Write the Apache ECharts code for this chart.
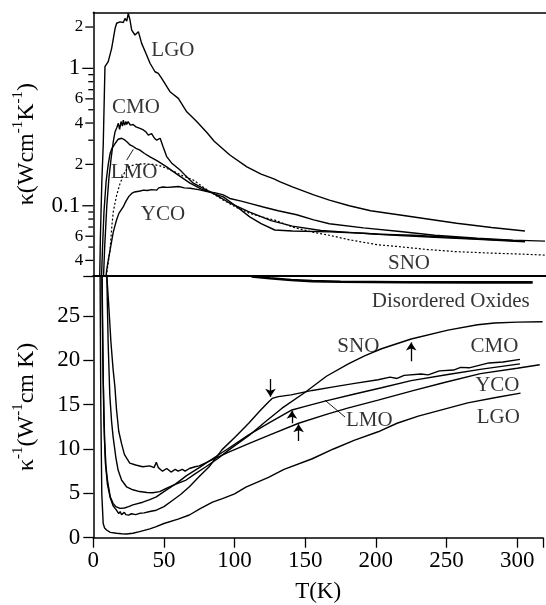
<!DOCTYPE html>
<html><head><meta charset="utf-8">
<script src="https://cdn.jsdelivr.net/npm/echarts@6/dist/echarts.min.js"></script>
<style>html,body{margin:0;padding:0;background:#fff}#c{width:546px;height:605px}</style>
</head><body><div id="c"></div>
<script>
// ---------- TOP PANEL: kappa (W cm^-1 K^-1), log scale ----------
const T_LGO_top = [4.3,5,6,7,8.2,10.5,12.9,15.3,16.4,18.8,20,21.1,22.3,23.5,24.6,25.8,27,29.3,31.7,34,37.5,39.9,43.4,45.7,48.1,53.9,59.8,65.7,72.7,80,85,96,108,118,127,131,140,155,166,180,195,215.7,235,255.5,280,303.5];
const K_LGO_top = [0.022,0.06,0.15,0.28,1.03,1.12,1.4,1.95,2.13,2.18,2.25,2.16,2.31,2.21,2.51,2.25,1.9,1.75,1.85,1.52,1.25,1.09,0.945,0.92,0.846,0.676,0.605,0.483,0.41,0.34,0.295,0.234,0.192,0.17,0.157,0.15,0.137,0.12,0.11,0.1,0.092,0.0856,0.08,0.0745,0.0695,0.0655];

const T_CMO_top = [6.5,8,9.5,11,12.5,14,15.3,16.5,17.6,18.5,19.5,20.5,21.1,22,23,23.5,24.5,26,28,30,32.8,35.2,37,38.7,40,41,43,44.6,47,49,51.6,55,61,65,70.3,75,79.7,85,91.4,100,110,118,127.6,140,166,190,215.7,240,270,303.5];
const K_CMO_top = [0.02,0.05,0.1,0.16,0.22,0.29,0.346,0.37,0.398,0.36,0.41,0.38,0.42,0.386,0.41,0.39,0.41,0.386,0.39,0.375,0.366,0.356,0.345,0.327,0.318,0.335,0.31,0.3,0.31,0.27,0.228,0.205,0.182,0.165,0.146,0.138,0.13,0.122,0.116,0.1,0.083,0.074,0.0666,0.0655,0.0645,0.063,0.0607,0.059,0.057,0.0547];

const T_LMO_top = [5.5,6.5,7.5,9,10.5,11.8,13,14.5,16,17.5,18.8,20,22.3,24,25.8,28,30,32.8,36,39.9,45,51.6,58,68,76,84.4,95,110,125,140,160,180,200,225,250,275,303.5];
const K_LMO_top = [0.025,0.05,0.09,0.15,0.2,0.24,0.26,0.275,0.29,0.305,0.31,0.31,0.3,0.29,0.277,0.27,0.262,0.254,0.24,0.227,0.212,0.192,0.172,0.146,0.132,0.123,0.106,0.09,0.078,0.071,0.066,0.064,0.062,0.061,0.059,0.057,0.0552];

const T_YCO_top = [8,9.4,10.5,11.7,13,14,15.3,16.4,18,19.5,21,23,25,27,29,31,33,35.2,38,41,44.6,46,47,49,52,56,60,64,68,74,80,86,91.4,96,104,110,119.5,130,143,155,166,190,215.7,240,270,295,317.6];
const K_YCO_top = [0.025,0.034,0.04,0.047,0.056,0.064,0.072,0.079,0.088,0.093,0.098,0.108,0.117,0.123,0.126,0.127,0.128,0.13,0.129,0.131,0.13,0.135,0.131,0.137,0.136,0.137,0.138,0.135,0.134,0.131,0.127,0.124,0.12,0.113,0.108,0.104,0.098,0.092,0.086,0.079,0.074,0.069,0.065,0.061,0.058,0.0562,0.0553];

const T_SNO_top = [7.5,9.4,11.7,13,14,15.3,16.5,18.8,20.5,22.3,24.6,27,30,35,42,47,51.6,58,63,70.3,78,84,90,100,110,118,127.6,140,155,166,180,200,215.7,235,255.5,280,300,318];
const K_SNO_top = [0.022,0.032,0.047,0.07,0.09,0.105,0.12,0.145,0.16,0.178,0.19,0.196,0.2,0.202,0.2,0.195,0.187,0.175,0.165,0.154,0.135,0.123,0.112,0.098,0.088,0.083,0.0786,0.07,0.064,0.061,0.0565,0.052,0.0503,0.048,0.0463,0.0452,0.0445,0.0437];

// ---------- BOTTOM PANEL: 1/kappa (W^-1 cm K) ----------
const T_LGO_bot = [4.8,5.3,6,7,8,9.4,12,16.4,20,23.5,28,32.8,40,44.6,50,60,68,76,84.4,91.4,100,108,124,135,155,170,185,201.6,215,230,248.5,265,285,302.4];
const V_LGO_bot = [30,15,5,1.6,1.1,0.87,0.6,0.5,0.45,0.42,0.5,0.68,1.0,1.24,1.6,2.1,2.56,3.3,4.0,4.4,4.95,5.7,6.8,7.7,8.9,10.0,11.0,11.94,12.9,13.7,14.5,15.2,15.8,16.3];

const T_CMO_bot = [6,6.8,7.5,8.5,10,12,14,16.4,18,19,20,21,22,23,24,25,27,30,32.8,36,40,44.6,50,56,62,68,75,82,91,100.8,110,118,124,126.6,131,140,155,170,185,201.6,210,215,220,232,237,245,255,260,266,280,290,302];
const V_CMO_bot = [30,20,13,8.5,6,4.5,3.6,3.1,2.7,2.95,2.6,2.56,2.85,2.6,2.7,2.55,2.7,2.6,2.75,2.8,2.95,3.1,3.5,4.2,4.9,5.74,6.9,8.0,9.9,11.4,12.9,14.3,15.3,15.7,15.9,16.1,16.6,17.0,17.4,17.8,18.1,17.95,18.3,18.45,18.35,18.8,18.9,19.2,19.15,19.7,19.8,20.1];

const T_LMO_bot = [6.2,7,8,9,10,12,14,16,18.8,22,25,28,35,40,44.6,50,58.6,66,75,84.4,95,110,125,140.6,150,164,185,204,225,251,275,302];
const V_LMO_bot = [30,18,11,8,6.5,4.6,3.87,3.5,3.3,3.35,3.5,3.7,4.0,4.3,4.6,5.2,6.1,7.0,7.9,8.9,10.0,11.6,13.0,14.4,14.8,15.4,16.2,16.9,17.7,18.4,19.0,19.6];

const T_YCO_bot = [9.4,11,12.5,14,15.3,16.4,18,20,22,23.5,25.8,30,35,40,43,44.6,46,49,52,55,58,60,63,65,68,72,75,84.4,95,110,125,145.3,165,180,201.6,227,248.5,274,300,316];
const V_YCO_bot = [30,26,22,19,17,14.5,12,10.6,9.4,9.0,8.4,8.2,8.0,8.1,7.9,8.5,7.9,7.5,7.8,7.4,7.7,7.5,7.7,7.5,7.8,8.0,8.1,8.8,9.6,10.6,11.6,12.9,13.9,14.6,15.5,16.6,17.5,18.5,19.1,19.5];

const T_SNO_bot = [9.5,10.5,11.7,13,14,16,17.6,20,23.5,28,32.8,38,42,47,51.6,58,65.7,72,79.7,88,96,110,122,133.6,150,165,180.5,192,204,225,251,272,284,300,318];
const V_SNO_bot = [30,22,16,13,11.4,9,7.6,6.5,5.74,5.4,5.2,5.1,5.07,5.2,5.56,6.0,6.5,7.2,8.0,8.9,9.9,11.5,13.1,14.6,16.4,18.2,19.6,20.5,21.3,22.4,23.4,24.0,24.2,24.3,24.35];

// "Disordered Oxides" bracket line
const T_wedge = [112,125,140,155,175,220,270,311];
const V_wedge = [29.45,29.25,29.05,28.92,28.85,28.8,28.78,28.78];

// tick labels
const xTicks = [0,50,100,150,200,250,300];
const bottomYTicks = [0,5,10,15,20,25];
const topTickValues = [0.04,0.05,0.06,0.07,0.08,0.09,0.1,0.2,0.3,0.4,0.5,0.6,0.7,0.8,0.9,1,2];
const topTickLabels = {0.04:'4',0.06:'6',0.1:'0.1',0.2:'2',0.4:'4',0.6:'6',1:'1',2:'2'};
const topMajor = [0.1,1];

// annotation text [T, value, text]
const topLabels = [[56,1.34,'LGO'],[30,0.523,'CMO'],[28.6,0.176,'LMO'],[49,0.087,'YCO'],[222,0.0383,'SNO']];
const bottomLabels = [[253,26.6,'Disordered Oxides'],[187.6,21.6,'SNO'],[284,21.6,'CMO'],[286,17.2,'YCO'],[195.3,13.25,'LMO'],[286.6,13.5,'LGO']];
// arrows [T, from, to]
const bottomArrows = [[125.4,17.9,15.9],[225,19.9,22.0],[140.6,12.9,14.3],[145.3,10.9,12.8]];
// pointer lines
const topPointer = [[23.5,0.215],[28.1,0.257]];
const bottomPointer = [[178.2,13.6],[164,15.5]];

const zip = (a,b) => a.map((x,i)=>[x,b[i]]);
const FONT = 'Liberation Serif, Times New Roman, serif';
const X_MAX = 318.3;

function lineSeries(name, T, V, xi, yi, dotted){
  return {type:'line', name, data: zip(T,V), xAxisIndex:xi, yAxisIndex:yi, symbol:'none', clip:true,
    lineStyle:{color:'#000', width: dotted?1.2:1.4, type: dotted?[2,2]:'solid'}, animation:false, z:3};
}
function labelSeries(arr, xi, yi){
  return {type:'scatter', data: arr, xAxisIndex:xi, yAxisIndex:yi, symbolSize:0.1, animation:false, silent:true,
    label:{show:true, position:'inside', formatter:p=>p.data[2], fontFamily:FONT, fontSize:21, color:'#000'}};
}

const chart = echarts.init(document.getElementById('c'), null, {renderer:'canvas'});
const ticks = topTickValues.map(v=>({v, label: topTickLabels[v] || '', major: topMajor.includes(v)}));
const nameRich = {a:{fontFamily:FONT, fontSize:24, color:'#000', lineHeight:28, verticalAlign:'bottom'}, s:{fontFamily:FONT, fontSize:15, color:'#000', lineHeight:15, verticalAlign:'top'}};

chart.setOption({
  backgroundColor:'#fff',
  animation:false,
  grid:[
    {left:93.3, top:12.3, width:X_MAX*1.4222, height:263.7},
    {left:93.3, top:276, width:X_MAX*1.4222, height:261.7}
  ],
  xAxis:[
    {type:'value', gridIndex:0, min:0, max:X_MAX, position:'bottom', axisLine:{show:true, onZero:false, lineStyle:{color:'#000', width:2}}, axisTick:{show:false}, axisLabel:{show:false}, splitLine:{show:false}},
    {type:'value', gridIndex:0, min:0, max:X_MAX, position:'top', axisLine:{show:true, onZero:false, lineStyle:{color:'#000', width:1.5}}, axisTick:{show:false}, axisLabel:{show:false}, splitLine:{show:false}},
    {type:'value', gridIndex:1, min:0, max:X_MAX, interval:50, position:'bottom',
      axisLine:{show:true, onZero:false, lineStyle:{color:'#000', width:1.5}},
      axisTick:{show:true, inside:false, length:10, lineStyle:{color:'#000', width:1.3}},
      axisLabel:{show:true, margin:12, fontFamily:FONT, fontSize:23, color:'#000', formatter:v=> xTicks.includes(v)? String(v):''},
      splitLine:{show:false},
      name:'T(K)', nameLocation:'middle', nameGap:43, nameTextStyle:{fontFamily:FONT, fontSize:23, color:'#000'}}
  ],
  yAxis:[
    {type:'log', gridIndex:0, logBase:10, min:0.0308, max:2.56,
      axisLine:{show:true, lineStyle:{color:'#000', width:1.5}}, axisTick:{show:false}, axisLabel:{show:false}, splitLine:{show:false},
      name:'{a|κ(Wcm}{s|-1}{a|K}{s|-1}{a|)}', nameLocation:'middle', nameRotate:90, nameGap:55,
      nameTextStyle:{rich:nameRich}},
    {type:'value', gridIndex:1, min:0, max:29.5, interval:5,
      axisLine:{show:true, onZero:false, lineStyle:{color:'#000', width:1.5}},
      axisTick:{show:true, inside:false, length:10, lineStyle:{color:'#000', width:1.3}},
      axisLabel:{show:true, margin:13, fontFamily:FONT, fontSize:23, color:'#000', formatter:v=> bottomYTicks.includes(v)? String(v):''},
      splitLine:{show:false},
      name:'{a|κ}{s|-1}{a|(W}{s|-1}{a|cm K)}', nameLocation:'middle', nameRotate:90, nameGap:55,
      nameTextStyle:{rich:nameRich}}
  ],
  series:[
    lineSeries('LGO', T_LGO_top, K_LGO_top, 0, 0, false),
    lineSeries('CMO', T_CMO_top, K_CMO_top, 0, 0, false),
    lineSeries('LMO', T_LMO_top, K_LMO_top, 0, 0, false),
    lineSeries('YCO', T_YCO_top, K_YCO_top, 0, 0, false),
    lineSeries('SNO', T_SNO_top, K_SNO_top, 0, 0, true),
    lineSeries('LGO_b', T_LGO_bot, V_LGO_bot, 2, 1, false),
    lineSeries('CMO_b', T_CMO_bot, V_CMO_bot, 2, 1, false),
    lineSeries('LMO_b', T_LMO_bot, V_LMO_bot, 2, 1, false),
    lineSeries('YCO_b', T_YCO_bot, V_YCO_bot, 2, 1, false),
    lineSeries('SNO_b', T_SNO_bot, V_SNO_bot, 2, 1, false),
    {type:'line', data:zip(T_wedge,V_wedge), xAxisIndex:2, yAxisIndex:1, symbol:'none', lineStyle:{color:'#000', width:2.6}, animation:false},
    labelSeries(topLabels, 0, 0),
    labelSeries(bottomLabels, 2, 1),
    {type:'lines', coordinateSystem:'cartesian2d', xAxisIndex:2, yAxisIndex:1, symbol:['none','arrow'], symbolSize:[0,8], animation:false,
      lineStyle:{color:'#000', width:1.3, opacity:1}, data: bottomArrows.map(a=>({coords:[[a[0],a[1]],[a[0],a[2]]]}))},
    {type:'lines', coordinateSystem:'cartesian2d', xAxisIndex:2, yAxisIndex:1, symbol:'none', animation:false,
      lineStyle:{color:'#000', width:0.9, opacity:1}, data:[{coords: bottomPointer}]},
    {type:'lines', coordinateSystem:'cartesian2d', xAxisIndex:0, yAxisIndex:0, symbol:'none', animation:false,
      lineStyle:{color:'#000', width:0.9, opacity:1}, data:[{coords: topPointer}]},
    {type:'custom', xAxisIndex:0, yAxisIndex:0, animation:false, silent:true, clip:false,
      data: ticks.map(t=>[0, t.v]),
      renderItem:(params, api)=>{
        const t = ticks[params.dataIndex];
        const p = api.coord([0, t.v]);
        const len = t.major ? 11 : (t.label ? 8 : 5);
        const children = [{type:'line', shape:{x1:p[0]-len, y1:p[1], x2:p[0], y2:p[1]}, style:{stroke:'#000', lineWidth:1.3}}];
        if (t.label) children.push({type:'text', style:{text:t.label, x:p[0]-len-2, y:p[1], align:'right', verticalAlign:'middle', fontFamily:FONT, fontSize: t.major?23:17, fill:'#000'}});
        return {type:'group', children};
      }}
  ]
});
</script></body></html>
